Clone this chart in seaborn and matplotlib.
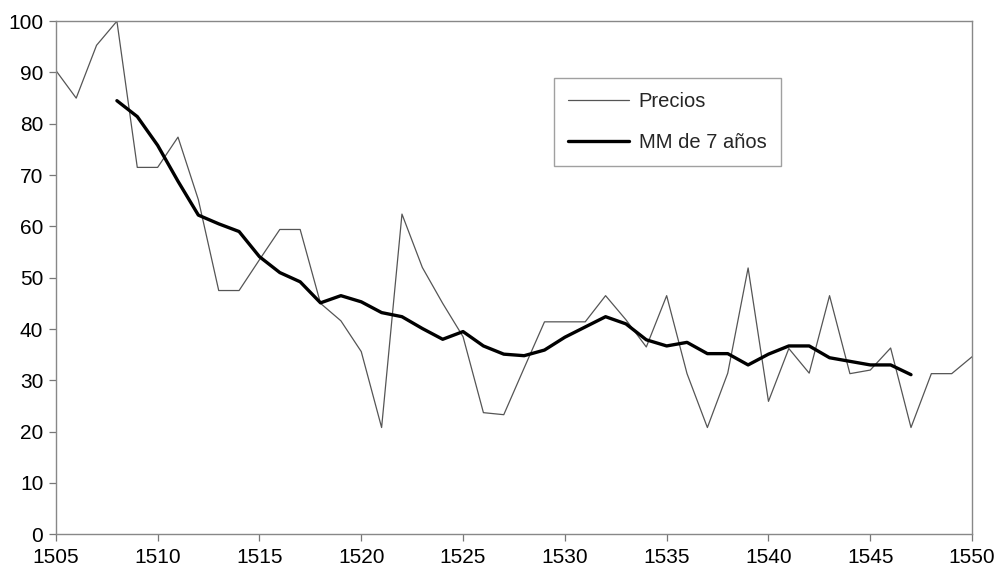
import numpy as np
import pandas as pd
import seaborn as sns
import matplotlib.pyplot as plt

years = list(range(1505, 1551))
precios = [90.4, 85.0, 95.3, 100.0, 71.5, 71.5, 77.4, 65.2, 47.5, 47.5,
           53.5, 59.4, 59.4, 45.0, 41.6, 35.6, 20.8, 62.4, 52.0, 45.0,
           38.5, 23.7, 23.3, 32.4, 41.4, 41.4, 41.4, 46.5, 41.8, 36.5,
           46.5, 31.3, 20.8, 31.4, 51.9, 25.9, 36.2, 31.4, 46.5, 31.3,
           32.0, 36.3, 20.8, 31.3, 31.3, 34.6]

mm_years = list(range(1508, 1548))
mm7 = [84.5, 81.4, 75.8, 68.8, 62.2, 60.5, 59.0, 54.1, 51.0, 49.2,
       45.1, 46.5, 45.3, 43.2, 42.4, 40.1, 38.0, 39.5, 36.7, 35.1,
       34.8, 35.9, 38.4, 40.4, 42.4, 41.0, 37.9, 36.7, 37.4, 35.2,
       35.2, 33.0, 35.1, 36.7, 36.7, 34.4, 33.7, 33.0, 33.0, 31.1]

df_p = pd.DataFrame({"year": years, "value": precios})
df_m = pd.DataFrame({"year": mm_years, "value": mm7})

sns.set_style("white")
plt.rcParams["font.family"] = ["Liberation Sans", "DejaVu Sans"]

fig = plt.figure(figsize=(9.97, 5.72), dpi=100)
ax = fig.add_axes([0.056, 0.066, 0.919, 0.897])

sns.lineplot(data=df_p, x="year", y="value", ax=ax, color="#555555",
             linewidth=0.9, label="Precios")
sns.lineplot(data=df_m, x="year", y="value", ax=ax, color="black",
             linewidth=2.4, label="MM de 7 años")

ax.set_xlim(1505, 1550)
ax.set_ylim(0, 100)
ax.set_xticks(range(1505, 1551, 5))
ax.set_yticks(range(0, 101, 10))
ax.set_xlabel("")
ax.set_ylabel("")
ax.tick_params(axis="both", labelsize=15, length=5, width=0.9,
               colors="#777777", labelcolor="black", direction="out",
               bottom=True, left=True)
ax.tick_params(axis="x", pad=5)
ax.tick_params(axis="y", pad=4)

for side in ["top", "right", "bottom", "left"]:
    ax.spines[side].set_color("#888888")
    ax.spines[side].set_linewidth(1.0)

leg = ax.legend(loc="upper left", bbox_to_anchor=(0.544, 0.889), fontsize=14.5,
                frameon=True, fancybox=False, edgecolor="#888888",
                handlelength=3.0, borderpad=0.7, labelspacing=1.1,
                handletextpad=0.5, borderaxespad=0)
leg.get_frame().set_linewidth(1.0)

fig.savefig("out.png", dpi=100)
